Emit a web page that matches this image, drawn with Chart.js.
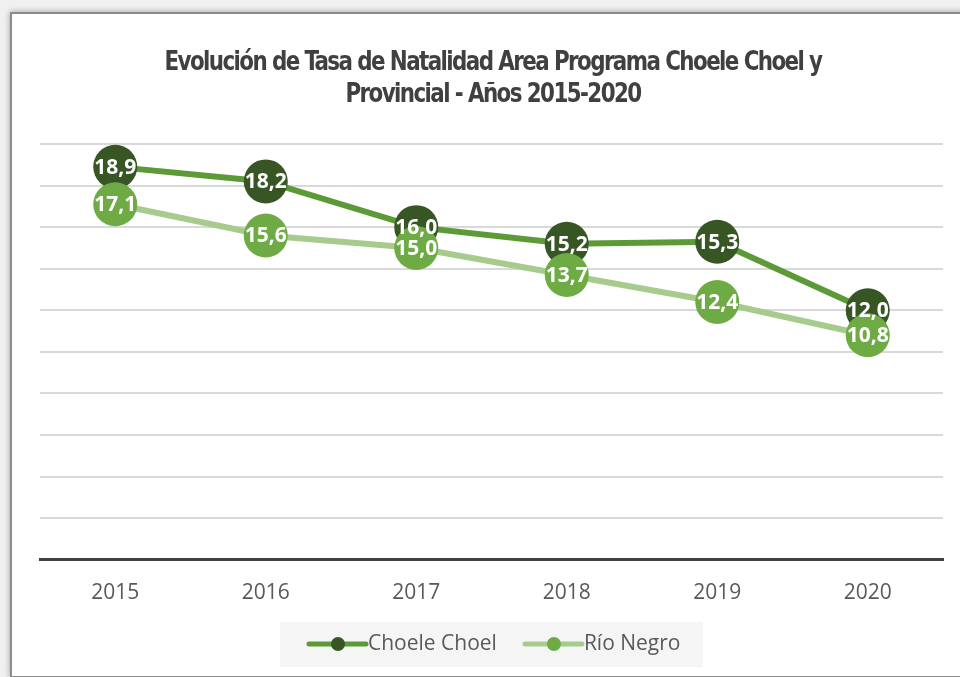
<!DOCTYPE html>
<html lang="es">
<head>
  <meta charset="UTF-8">
  <title>Tasa de Natalidad</title>
  <script src="https://cdn.jsdelivr.net/npm/chart.js"></script>
  <style>
    html, body { margin: 0; padding: 0; background: #f0f0f0; overflow: hidden; }
    .frame {
      position: absolute; left: 10px; top: 12px; width: 990px; height: 662px;
      background: #fff; border: 2px solid #8c8c8c;
      box-shadow: 0 0 6px rgba(0,0,0,0.35);
    }
    #chart-wrap { position: absolute; left: 0; top: 0; width: 965px; height: 677px; }
  </style>
</head>
<body>
  <div class="frame"></div>
  <div id="chart-wrap"><canvas id="natalidadChart"></canvas></div>

  <script>
    // data
    const titleLines = ['Evolución de Tasa de Natalidad Area Programa Choele Choel y', 'Provincial - Años 2015-2020'];
    const years = ['2015', '2016', '2017', '2018', '2019', '2020'];
    const choeleChoel = [18.9, 18.2, 16.0, 15.2, 15.3, 12.0];
    const rioNegro = [17.1, 15.6, 15.0, 13.7, 12.4, 10.8];
    const seriesNames = ['Choele Choel', 'Río Negro'];

    const fmt = v => v.toFixed(1).replace('.', ',');

    // title drawn by hand so it can be squeezed like the condensed original
    const titlePlugin = {
      id: 'titlePlugin',
      afterDraw(chart) {
        const ctx = chart.ctx;
        ctx.save();
        ctx.fillStyle = '#404040';
        ctx.font = 'bold 27px "DejaVu Sans Condensed", "DejaVu Sans"';
        ctx.letterSpacing = '-1.8px';
        ctx.textAlign = 'center';
        ctx.textBaseline = 'alphabetic';
        const squeeze = Math.min(1, 657 / ctx.measureText(titleLines[0]).width);
        ctx.translate(493, 0);
        ctx.scale(squeeze, 1);
        titleLines.forEach((line, i) => ctx.fillText(line, 0, 70 + i * 32));
        ctx.restore();
      }
    };

    // white value labels on top of the markers
    const valueLabels = {
      id: 'valueLabels',
      afterDatasetsDraw(chart) {
        const ctx = chart.ctx;
        ctx.save();
        ctx.fillStyle = '#ffffff';
        ctx.font = 'bold 21px "Open Sans"';
        ctx.textAlign = 'center';
        ctx.textBaseline = 'middle';
        chart.data.datasets.forEach((ds, i) => {
          chart.getDatasetMeta(i).data.forEach((pt, j) => {
            ctx.fillText(fmt(ds.data[j]), pt.x, pt.y + 1);
          });
        });
        ctx.restore();
      }
    };

    // legend with grey box and line+marker symbols
    const boxLegend = {
      id: 'boxLegend',
      afterDraw(chart) {
        const ctx = chart.ctx;
        ctx.save();
        ctx.fillStyle = '#f5f5f5';
        ctx.fillRect(280, 622, 423, 45);
        ctx.font = '21px "Open Sans"';
        ctx.textBaseline = 'middle';
        let x = 309;
        const y = 644;
        chart.data.datasets.forEach(ds => {
          ctx.strokeStyle = ds.borderColor;
          ctx.lineWidth = 5;
          ctx.lineCap = 'round';
          ctx.beginPath();
          ctx.moveTo(x, y);
          ctx.lineTo(x + 57, y);
          ctx.stroke();
          ctx.fillStyle = ds.pointBackgroundColor;
          ctx.beginPath();
          ctx.arc(x + 29, y, 7, 0, Math.PI * 2);
          ctx.fill();
          ctx.fillStyle = '#595959';
          ctx.textAlign = 'left';
          ctx.fillText(ds.label, x + 59, y);
          x += 59 + ctx.measureText(ds.label).width + 28;
        });
        ctx.restore();
      }
    };

    new Chart(document.getElementById('natalidadChart').getContext('2d'), {
      type: 'line',
      data: {
        labels: years,
        datasets: [
          {
            label: seriesNames[0],
            data: choeleChoel,
            borderColor: '#5c9a37',
            borderWidth: 6,
            pointBackgroundColor: '#375623',
            pointBorderColor: '#375623',
            pointRadius: 22,
            pointBorderWidth: 0,
            order: 1
          },
          {
            label: seriesNames[1],
            data: rioNegro,
            borderColor: '#a6cb8d',
            borderWidth: 6,
            pointBackgroundColor: '#6fab45',
            pointBorderColor: '#6fab45',
            pointRadius: 22,
            pointBorderWidth: 0,
            order: 0
          }
        ]
      },
      options: {
        responsive: true,
        maintainAspectRatio: false,
        animation: false,
        layout: { padding: { left: 40, right: 7, top: 144, bottom: 58 } },
        plugins: {
          legend: { display: false },
          title: { display: false },
          tooltip: { enabled: false }
        },
        scales: {
          x: {
            offset: true,
            grid: { display: false },
            border: { color: '#404040', width: 3 },
            ticks: { color: '#595959', font: { family: 'Open Sans', size: 21 }, padding: 13 }
          },
          y: {
            min: 0,
            max: 20,
            ticks: { display: false, stepSize: 2 },
            grid: { color: '#d9d9d9', lineWidth: 2, drawTicks: false },
            border: { display: false }
          }
        }
      },
      plugins: [titlePlugin, valueLabels, boxLegend]
    });
  </script>
</body>
</html>
